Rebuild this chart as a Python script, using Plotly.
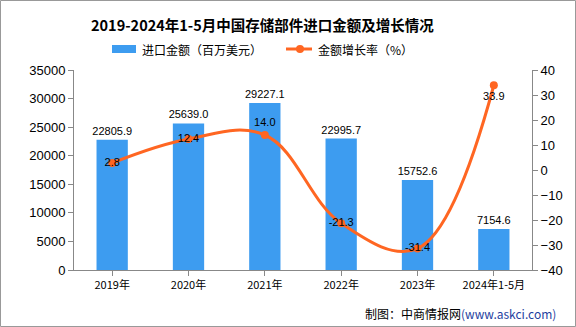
import plotly.graph_objects as go

categories = ["2019年", "2020年", "2021年", "2022年", "2023年", "2024年1-5月"]
import_value = [22805.9, 25639.0, 29227.1, 22995.7, 15752.6, 7154.6]
growth_rate = [2.8, 12.4, 14.0, -21.3, -31.4, 33.9]
rate_text_pos = ["middle center", "middle center", "top center", "middle center", "middle center", "bottom center"]

W, H = 576, 327
L, R, T, B = 74, 44, 70, 57
pw, ph = W - L - R, H - T - B

def px(x):
    return (x - L) / pw

def py(y):
    return (H - B - y) / ph

bar_color = "#3d9cf0"
line_color = "#ff6622"
font_cjk = "Noto Sans CJK SC"
font_num = "Liberation Sans, Arial"

fig = go.Figure()
fig.add_trace(go.Bar(
    x=categories, y=import_value, name="进口金额（百万美元）",
    marker=dict(color=bar_color, line=dict(width=0)),
    text=[f"{v:.1f}" for v in import_value], textposition="outside",
    constraintext="none",
    textfont=dict(size=11, color="#000", family=font_num),
    cliponaxis=False, yaxis="y",
))
fig.add_trace(go.Scatter(
    x=categories, y=growth_rate, name="金额增长率（%）",
    mode="lines+markers+text",
    line=dict(color=line_color, width=3, shape="spline", smoothing=1.1),
    marker=dict(color=line_color, size=8),
    text=[f"{v:.1f}" for v in growth_rate], textposition=rate_text_pos,
    textfont=dict(size=11, color="#000", family=font_num),
    cliponaxis=False, yaxis="y2",
))

fig.update_layout(
    width=W, height=H,
    margin=dict(l=L, r=R, t=T, b=B),
    paper_bgcolor="white", plot_bgcolor="white",
    bargap=0.59,
    showlegend=False,
    xaxis=dict(showline=True, linecolor="#888", linewidth=1, ticks="outside",
               ticklen=5, tickcolor="#888", showgrid=False,
               tickfont=dict(size=11, family=font_cjk, color="#000")),
    yaxis=dict(range=[0, 35000], dtick=5000, tickformat="d", showline=True, linecolor="#888",
               linewidth=1, ticks="outside", ticklen=5, tickcolor="#888",
               showgrid=False, zeroline=False,
               tickfont=dict(size=13, family=font_num, color="#000")),
    yaxis2=dict(range=[-40, 40], dtick=10, overlaying="y", side="right",
                showline=True, linecolor="#888", linewidth=1, ticks="outside",
                ticklen=5, tickcolor="#888", showgrid=False, zeroline=False,
                tickfont=dict(size=13, family=font_num, color="#000")),
    font=dict(family=font_cjk),
)

# title
fig.add_annotation(text="<b>2019-2024年1-5月中国存储部件进口金额及增长情况</b>",
                   xref="paper", yref="paper", x=px(262), y=py(24),
                   xanchor="center", yanchor="middle", showarrow=False,
                   font=dict(size=14.5, family=font_cjk, color="#000"))

# custom legend
fig.add_shape(type="rect", xref="paper", yref="paper",
              x0=px(112), x1=px(136), y0=py(53), y1=py(45),
              fillcolor=bar_color, line=dict(width=0))
fig.add_annotation(text="进口金额（百万美元）", xref="paper", yref="paper",
                   x=px(140), y=py(49), xanchor="left", yanchor="middle", showarrow=False,
                   font=dict(size=12, family=font_cjk, color="#000"))
fig.add_shape(type="line", xref="paper", yref="paper",
              x0=px(286), x1=px(312), y0=py(49), y1=py(49),
              line=dict(color=line_color, width=3))
fig.add_shape(type="circle", xref="paper", yref="paper",
              x0=px(296), x1=px(304), y0=py(53), y1=py(45),
              fillcolor=line_color, line=dict(width=0))
fig.add_annotation(text="金额增长率（%）", xref="paper", yref="paper",
                   x=px(316), y=py(49), xanchor="left", yanchor="middle", showarrow=False,
                   font=dict(size=12, family=font_cjk, color="#000"))

fig.add_annotation(text="制图：中商情报网<span style='color:#1f3fa0'>(www.askci.com)</span>",
                   xref="paper", yref="paper", x=px(558), y=py(313),
                   xanchor="right", yanchor="middle", showarrow=False,
                   font=dict(size=12, family=font_cjk, color="#000"))

fig.add_shape(type="rect", xref="paper", yref="paper",
              x0=px(0.5), x1=px(W - 0.5), y0=py(H - 0.5), y1=py(0.5),
              line=dict(color="#999", width=1), layer="below")

fig.write_html("out.html")
